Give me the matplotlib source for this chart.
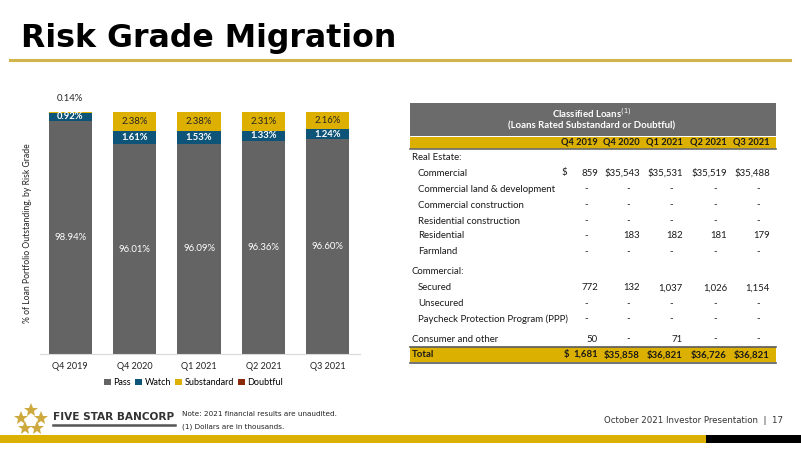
import matplotlib
matplotlib.use("Agg")
import matplotlib.pyplot as plt
from matplotlib.patches import Rectangle
from matplotlib.lines import Line2D

# ---------------- data ----------------
quarters = ["Q4 2019", "Q4 2020", "Q1 2021", "Q2 2021", "Q3 2021"]
pass_pct = [98.94, 96.01, 96.09, 96.36, 96.60]
watch_pct = [0.92, 1.61, 1.53, 1.33, 1.24]
substd_pct = [0.14, 2.38, 2.38, 2.31, 2.16]
doubtful_pct = [0.0, 0.0, 0.0, 0.0, 0.0]
legend_labels = ["Pass", "Watch", "Substandard", "Doubtful"]

table_rows = ["Real Estate:", "Commercial", "Commercial land & development",
              "Commercial construction", "Residential construction", "Residential",
              "Farmland", "Commercial:", "Secured", "Unsecured",
              "Paycheck Protection Program (PPP)", "Consumer and other"]
table_vals = [
    None,
    ["859", "$35,543", "$35,531", "$35,519", "$35,488"],
    ["-", "-", "-", "-", "-"],
    ["-", "-", "-", "-", "-"],
    ["-", "-", "-", "-", "-"],
    ["-", "183", "182", "181", "179"],
    ["-", "-", "-", "-", "-"],
    None,
    ["772", "132", "1,037", "1,026", "1,154"],
    ["-", "-", "-", "-", "-"],
    ["-", "-", "-", "-", "-"],
    ["50", "-", "71", "-", "-"],
]
total_vals = ["1,681", "$35,858", "$36,821", "$36,726", "$36,821"]

# ---------------- style ----------------
C_PASS = "#646464"
C_WATCH = "#0e5479"
C_SUB = "#ddb000"
C_DBT = "#8b2a0b"
GOLD = "#dcb000"
FONT = "Lato"
TXT = "#1a1a1a"

W, H = 801, 450
fig = plt.figure(figsize=(W / 100, H / 100), dpi=100)

# overlay axes in pixel coordinates
ov = fig.add_axes([0, 0, 1, 1])
ov.set_xlim(0, W)
ov.set_ylim(H, 0)
ov.axis("off")

# title
ov.text(21, 39, "Risk Grade Migration", fontsize=22.8, fontweight="bold",
        family="DejaVu Sans", color="black", va="center", ha="left")
ov.add_line(Line2D([10, 790], [59.5, 59.5], color="#d2b54a", lw=2.2))

# ---------------- bar chart ----------------
ax = fig.add_axes([40 / W, (H - 354) / H, 320 / W, 242 / H])
x = list(range(len(quarters)))
bw = 0.67
b1 = ax.bar(x, pass_pct, bw, color=C_PASS, label=legend_labels[0])
bot2 = pass_pct
b2 = ax.bar(x, watch_pct, bw, bottom=bot2, color=C_WATCH, label=legend_labels[1])
bot3 = [p + w for p, w in zip(pass_pct, watch_pct)]
b3 = ax.bar(x, substd_pct, bw, bottom=bot3, color=C_SUB, label=legend_labels[2])
bot4 = [b + s for b, s in zip(bot3, substd_pct)]
b4 = ax.bar(x, doubtful_pct, bw, bottom=bot4, color=C_DBT, label=legend_labels[3])

ymin = 70
ax.set_ylim(ymin, 100)
ax.set_xlim(-0.47, 4.5)
for s in ["top", "right", "left"]:
    ax.spines[s].set_visible(False)
ax.spines["bottom"].set_color("#d9d9d9")
ax.set_yticks([])
ax.set_xticks(x)
ax.set_xticklabels(quarters, fontsize=6.5, family=FONT, color="#222222")
ax.tick_params(axis="x", length=0, pad=6)
ax.set_ylabel("% of Loan Portfolio Outstanding, by Risk Grade", fontsize=6.2,
              family=FONT, color="#222222", labelpad=6)

for i in x:
    ax.text(i, (ymin + pass_pct[i]) / 2, f"{pass_pct[i]:.2f}%", ha="center", va="center",
            color="white", fontsize=6.8, family=FONT)
    ax.text(i, bot2[i] + watch_pct[i] / 2, f"{watch_pct[i]:.2f}%", ha="center", va="center",
            color="white", fontsize=6.8, family=FONT, fontweight="bold")
    if substd_pct[i] > 1:
        ax.text(i, bot3[i] + substd_pct[i] / 2, f"{substd_pct[i]:.2f}%", ha="center",
                va="center", color="#262626", fontsize=6.8, family=FONT)
    else:
        ax.text(i, bot4[i] + 1.1, f"{substd_pct[i]:.2f}%", ha="center", va="bottom",
                color="#262626", fontsize=6.8, family=FONT)

leg = ax.legend(handles=[b1, b2, b3, b4], loc="upper center", bbox_to_anchor=(0.48, -0.085),
                ncol=4, frameon=False, handlelength=0.75, handleheight=0.75,
                handletextpad=0.25, columnspacing=0.5, borderaxespad=0,
                prop={"family": FONT, "size": 6.5})

# ---------------- table ----------------
TX0, TX1 = 410, 776
FS = 6.9
ov.add_patch(Rectangle((TX0, 103), TX1 - TX0, 33, color="#6b6b6b", lw=0))
ov.text(592, 113.5, "Classified Loans$^{(1)}$", ha="center", va="center", color="white",
        fontsize=FS, fontweight="bold", family=FONT)
ov.text(592, 126, "(Loans Rated Substandard or Doubtful)", ha="center", va="center",
        color="white", fontsize=FS, fontweight="bold", family=FONT)
ov.add_patch(Rectangle((TX0, 136.5), TX1 - TX0, 12, color=GOLD, lw=0))
ov.add_line(Line2D([TX0, TX1], [149, 149], color="#6b6b6b", lw=1.2))

col_right = [598, 640, 683, 727, 770]
dash_off = 12
for cx, q in zip(col_right, quarters):
    ov.text(cx, 142.5, q, ha="right", va="center", fontsize=6.7, fontweight="bold",
            family=FONT, color=TXT)

row_y = [157, 173, 189, 205, 221, 236, 252, 272, 288, 304, 319, 339]
for lab, vals, yy in zip(table_rows, table_vals, row_y):
    indent = 412 if (vals is None or lab == "Consumer and other") else 418
    ov.text(indent, yy, lab, ha="left", va="center", fontsize=FS, family=FONT, color=TXT)
    if vals is None:
        continue
    for j, v in enumerate(vals):
        if v == "-":
            ov.text(col_right[j] - dash_off, yy, "-", ha="center", va="center",
                    fontsize=FS, family=FONT, color=TXT)
        else:
            ov.text(col_right[j], yy, v, ha="right", va="center", fontsize=FS,
                    family=FONT, color=TXT)
    if lab == "Commercial":
        ov.text(564, yy, "$", ha="center", va="center", fontsize=FS, family=FONT, color=TXT)

# total row
ov.add_patch(Rectangle((TX0, 346.5), TX1 - TX0, 15.5, color=GOLD, lw=0))
ov.add_line(Line2D([TX0, TX1], [346.5, 346.5], color="#5a5a5a", lw=1.2))
ov.add_line(Line2D([TX0, TX1], [362.5, 362.5], color="#5a5a5a", lw=1.2))
ov.text(412, 354.5, "Total", ha="left", va="center", fontsize=FS, fontweight="bold",
        family=FONT, color=TXT)
ov.text(566, 354.5, "$", ha="center", va="center", fontsize=FS, fontweight="bold",
        family=FONT, color=TXT)
for j, v in enumerate(total_vals):
    ov.text(col_right[j], 354.5, v, ha="right", va="center", fontsize=FS,
            fontweight="bold", family=FONT, color=TXT)

# ---------------- footer ----------------
star_c = "#cda93e"
for sx, sy in [(31, 410), (21, 417.5), (41, 417.5), (25, 428), (37, 428)]:
    ov.plot([sx], [sy], marker="*", markersize=10.5, color=star_c, mec=star_c, mew=0)
ov.text(53, 417, "FIVE STAR BANCORP", ha="left", va="center", fontsize=7.6,
        fontweight="bold", family="DejaVu Sans", color="#333333")
ov.add_line(Line2D([53, 175], [424.5, 424.5], color="#555555", lw=1.8))
ov.text(182, 414.5, "Note: 2021 financial results are unaudited.", ha="left", va="center",
        fontsize=5.2, family="DejaVu Sans", color="#222222")
ov.text(182, 426.5, "(1) Dollars are in thousands.", ha="left", va="center",
        fontsize=5.2, family="DejaVu Sans", color="#222222")
ov.text(783, 420.5, "October 2021 Investor Presentation  |  17", ha="right", va="center",
        fontsize=6.2, family="DejaVu Sans", color="#333333")
ov.add_patch(Rectangle((0, 435), 706, 8, color=GOLD, lw=0))
ov.add_patch(Rectangle((706, 435), W - 706, 8, color="black", lw=0))

fig.savefig("out.png", dpi=100)
